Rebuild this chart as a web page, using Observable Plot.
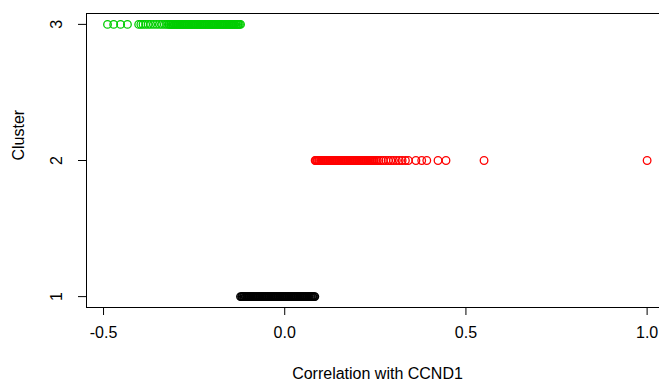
<!DOCTYPE html>
<html>
<head>
<meta charset="utf-8">
<script src="https://cdn.jsdelivr.net/npm/d3@7"></script>
<script src="https://cdn.jsdelivr.net/npm/@observablehq/plot@0.6"></script>
<style>
  html, body { margin: 0; padding: 0; background: #fff; overflow: hidden; }
  svg { display: block; }
</style>
</head>
<body>
<div id="chart"></div>
<script>
// Cluster 1 (black): correlations with CCND1
const cluster1 = [-0.122,-0.119,-0.117,-0.114,-0.112,-0.109,-0.107,-0.104,-0.102,-0.099,-0.097,-0.094,-0.092,-0.089,-0.087,-0.084,-0.082,-0.079,-0.077,-0.074,-0.072,-0.069,-0.067,-0.064,-0.062,-0.059,-0.057,-0.054,-0.052,-0.049,-0.047,-0.044,-0.042,-0.039,-0.037,-0.034,-0.032,-0.029,-0.027,-0.024,-0.022,-0.019,-0.017,-0.014,-0.012,-0.009,-0.007,-0.004,-0.002,0.001,0.003,0.006,0.008,0.011,0.013,0.016,0.018,0.021,0.023,0.026,0.028,0.031,0.033,0.036,0.038,0.041,0.043,0.046,0.048,0.051,0.053,0.056,0.058,0.061,0.063,0.066,0.068,0.071,0.073,0.076,0.078,0.081,0.083];
// Cluster 2 (red)
const cluster2 = [0.084,0.086,0.089,0.091,0.094,0.096,0.099,0.101,0.104,0.106,0.109,0.111,0.114,0.116,0.119,0.121,0.124,0.126,0.129,0.131,0.134,0.136,0.139,0.141,0.144,0.146,0.149,0.151,0.154,0.156,0.159,0.161,0.164,0.166,0.169,0.171,0.174,0.176,0.179,0.181,0.184,0.186,0.189,0.191,0.194,0.196,0.199,0.201,0.204,0.206,0.209,0.211,0.214,0.216,0.219,0.221,0.224,0.226,0.229,0.231,0.234,0.236,0.239,0.241,0.244,0.247,0.251,0.255,0.260,0.266,0.272,0.279,0.286,0.293,0.300,0.308,0.316,0.324,0.333,0.341,0.362,0.378,0.392,0.423,0.445,0.550,1.000];
// Cluster 3 (green)
const cluster3 = [-0.489,-0.472,-0.453,-0.434,-0.403,-0.397,-0.391,-0.384,-0.377,-0.370,-0.362,-0.354,-0.346,-0.339,-0.332,-0.326,-0.321,-0.318,-0.315,-0.313,-0.310,-0.308,-0.305,-0.303,-0.300,-0.298,-0.295,-0.293,-0.290,-0.288,-0.285,-0.283,-0.280,-0.278,-0.275,-0.273,-0.270,-0.268,-0.265,-0.263,-0.260,-0.258,-0.255,-0.253,-0.250,-0.248,-0.245,-0.243,-0.240,-0.238,-0.235,-0.233,-0.230,-0.228,-0.225,-0.223,-0.220,-0.218,-0.215,-0.213,-0.210,-0.208,-0.205,-0.203,-0.200,-0.198,-0.195,-0.193,-0.190,-0.188,-0.185,-0.183,-0.180,-0.178,-0.175,-0.173,-0.170,-0.168,-0.165,-0.163,-0.160,-0.158,-0.155,-0.153,-0.150,-0.148,-0.145,-0.143,-0.140,-0.138,-0.135,-0.133,-0.130,-0.128,-0.125,-0.122];

const clusterIds = [1, 2, 3];
const clusterColors = ["#000000", "#ff0000", "#00cd00"];
const xTicks = [-0.5, 0.0, 0.5, 1.0];
const yTicks = [1, 2, 3];
const xLabel = "Correlation with CCND1";
const yLabel = "Cluster";

const data = [
  ...cluster1.map(x => ({x, cluster: 1})),
  ...cluster2.map(x => ({x, cluster: 2})),
  ...cluster3.map(x => ({x, cluster: 3}))
];

const font = "'Liberation Sans', Arial, Helvetica, sans-serif";

const chart = Plot.plot({
  width: 659,
  height: 380,
  marginLeft: 86,
  marginRight: -9,
  marginTop: 13,
  marginBottom: 73,
  style: {fontFamily: font, fontSize: "16px", color: "#000", background: "#fff"},
  x: {domain: [-0.547, 1.059]},
  y: {domain: [0.92, 3.08]},
  color: {domain: clusterIds, range: clusterColors},
  marks: [
    Plot.frame({stroke: "#000", strokeWidth: 1}),
    Plot.axisX({
      ticks: xTicks, tickSize: 8, tickPadding: 11,
      tickFormat: d => d.toFixed(1),
      fontSize: 16, label: null
    }),
    Plot.axisY({
      ticks: yTicks, tickSize: 8, tickPadding: 17,
      tickFormat: d => String(d), tickRotate: -90,
      fontSize: 16, label: null
    }),
    Plot.text([xLabel], {
      frameAnchor: "bottom", dy: 71, text: d => d, fontSize: 16, lineAnchor: "bottom"
    }),
    Plot.text([yLabel], {
      frameAnchor: "left", dx: -68, rotate: -90, text: d => d, fontSize: 16
    }),
    Plot.dot(data, {
      x: "x", y: "cluster", stroke: "cluster", fill: "none", r: 3.8, strokeWidth: 1.3
    })
  ]
});

document.getElementById("chart").appendChild(chart);
</script>
</body>
</html>
